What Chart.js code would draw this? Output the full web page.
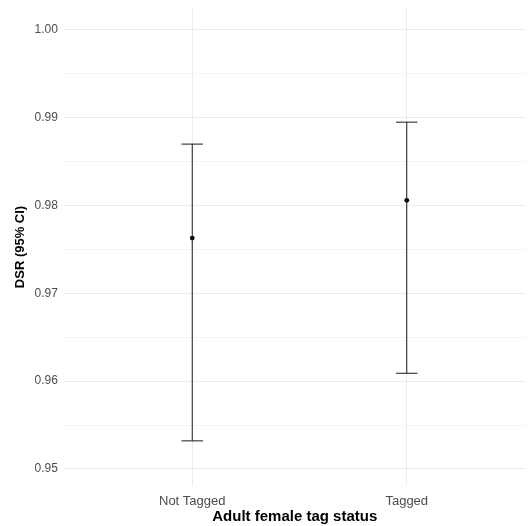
<!DOCTYPE html>
<html>
<head>
<meta charset="utf-8">
<script src="https://cdn.jsdelivr.net/npm/chart.js@4"></script>
<style>
  html, body { margin: 0; padding: 0; background: #fff; overflow: hidden; }
</style>
</head>
<body>
<canvas id="c" width="528" height="526"></canvas>
<script>
// data
const categories = ['Not Tagged', 'Tagged']
const dsr = [0.9763, 0.9806]
const lowerCI = [0.9532, 0.9609]
const upperCI = [0.9870, 0.9895]
const yTicks = [0.95, 0.96, 0.97, 0.98, 0.99, 1.00]

const capHalf = 0.05
const barColor = '#1a1a1a'

const segment = pts => ({
  type: 'line', data: pts, borderColor: barColor, borderWidth: 1,
  pointRadius: 0, pointHoverRadius: 0, pointBorderWidth: 0
})

const datasets = []
categories.forEach((cat, i) => {
  const x = i + 1
  datasets.push(segment([{ x: x, y: lowerCI[i] }, { x: x, y: upperCI[i] }]))               // whisker
  datasets.push(segment([{ x: x - capHalf, y: upperCI[i] }, { x: x + capHalf, y: upperCI[i] }])) // top cap
  datasets.push(segment([{ x: x - capHalf, y: lowerCI[i] }, { x: x + capHalf, y: lowerCI[i] }])) // bottom cap
})
datasets.push({
  type: 'scatter',
  data: dsr.map((v, i) => ({ x: i + 1, y: v })),
  backgroundColor: '#000', borderColor: '#000', pointRadius: 2.4,
  pointHoverRadius: 0, borderWidth: 0
})

const isMajor = v => yTicks.some(t => Math.abs(t - v) < 1e-6)
const font = 'Liberation Sans, Arial, Helvetica, sans-serif'
const noEdgePad = s => { s.paddingTop = 0; s.paddingBottom = 0; s.paddingLeft = 0; s.paddingRight = 0 }

new Chart(document.getElementById('c'), {
  type: 'scatter',
  data: { datasets },
  options: {
    responsive: false,
    animation: false,
    events: [],
    layout: { padding: { top: 8, right: 0, bottom: 0, left: 13 } },
    plugins: { legend: { display: false }, tooltip: { enabled: false } },
    scales: {
      x: {
        type: 'linear', min: 0.402, max: 2.554,
        afterBuildTicks: ax => { ax.ticks = categories.map((c, i) => ({ value: i + 1 })) },
        afterFit: noEdgePad,
        ticks: {
          callback: v => categories[Math.round(v) - 1] || '',
          color: '#4d4d4d', font: { family: font, size: 13 }, padding: 7.9, maxRotation: 0
        },
        grid: { color: '#ebebeb', lineWidth: 1, drawTicks: false },
        border: { display: false },
        title: {
          display: true, text: 'Adult female tag status', color: '#000',
          font: { family: font, size: 15, weight: 'bold' }, padding: { top: -9.4, bottom: 0 }
        }
      },
      y: {
        type: 'linear', min: 0.94806, max: 1.0025,
        afterBuildTicks: ax => {
          const t = []
          for (let k = 0; k <= 10; k++) t.push({ value: +(0.95 + k * 0.005).toFixed(3) })
          ax.ticks = t
        },
        afterFit: noEdgePad,
        ticks: {
          callback: v => isMajor(v) ? v.toFixed(2) : '',
          color: '#4d4d4d', font: { family: font, size: 12 }, padding: 6
        },
        grid: {
          color: ctx => isMajor(ctx.tick.value) ? '#ebebeb' : '#f4f4f4',
          lineWidth: 1, drawTicks: false
        },
        border: { display: false },
        title: {
          display: true, text: 'DSR (95% CI)', color: '#000',
          font: { family: font, size: 13, weight: 'bold' }, padding: { top: 0, bottom: 0 }
        }
      }
    }
  }
})
</script>
</body>
</html>
